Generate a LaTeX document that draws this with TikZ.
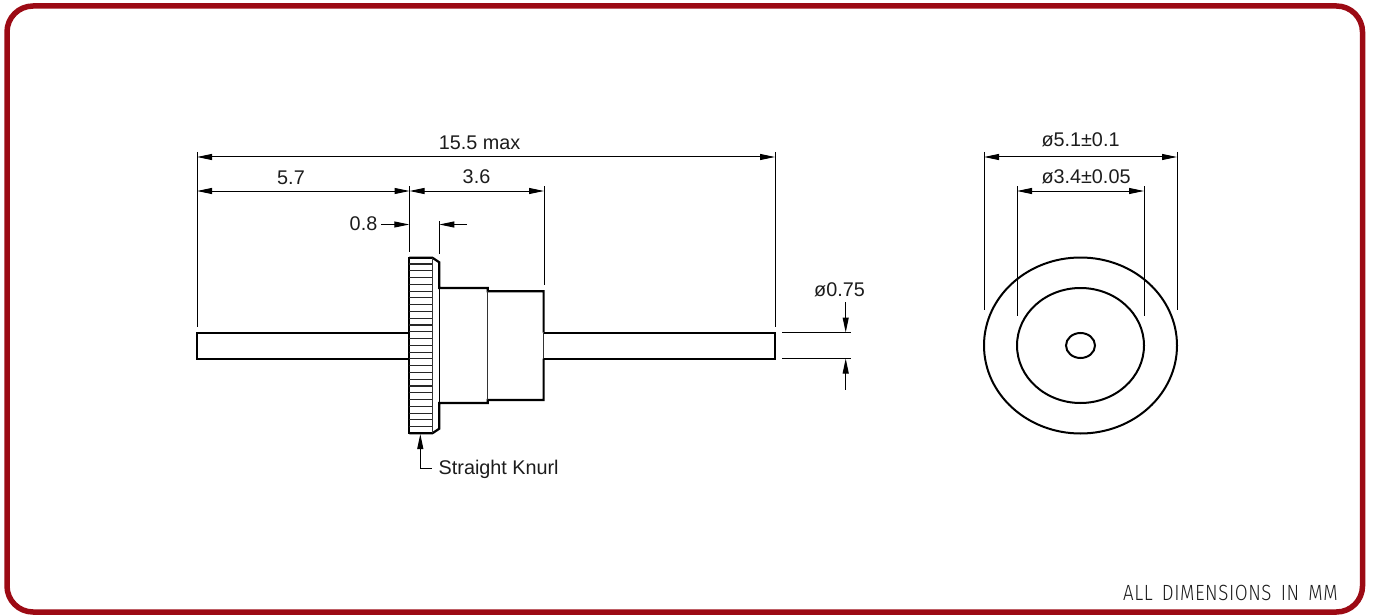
\documentclass[tikz,border=0pt]{standalone}
\usepackage{fontspec}
\setmainfont{Liberation Sans}
\newfontfamily\dinfont[LetterSpace=3,WordSpace=1.6]{Fira Sans Light}
\usetikzlibrary{arrows.meta}
\definecolor{framered}{HTML}{9C0A14}
\definecolor{inkgrey}{HTML}{1C1C1C}
\tikzset{
  x=1pt,y=-1pt,
  thickline/.style={draw=black,line width=2.2pt,line join=miter},
  midline/.style={draw=black,line width=1.6pt},
  thinline/.style={draw=black!80,line width=1pt},
  hatchline/.style={draw=black!85,line width=1.1pt},
  dimline/.style={draw=black,line width=1pt},
  dimarrows/.style={dimline,{Triangle[length=15pt,width=6pt]}-{Triangle[length=15pt,width=6pt]}},
  onearrow/.style={dimline,-{Triangle[length=15pt,width=6pt]}},
  dimtext/.style={inner sep=0pt,text=inkgrey,font=\fontsize{19.8}{19.8}\selectfont},
}
\begin{document}
\begin{tikzpicture}
\useasboundingbox (0,0) rectangle (1379,615);
\draw[draw=framered,line width=5.5pt,rounded corners=26pt] (7,6) rectangle (1362.5,612);

% Side view: shaft
\draw[thickline] (409.3,332.7) -- (197,332.7) -- (197,358.7) -- (409.3,358.7);
\draw[thickline] (543.6,332.7) -- (775,332.7) -- (775,358.7) -- (543.6,358.7);
\draw[thinline] (543.6,332.7) -- (543.6,358.7);
% Knurled head
\draw[thickline] (409.3,257.7) -- (432.3,257.7) -- (439.3,262.3) -- (439.3,288) -- (487.7,288) -- (487.7,291.3) -- (543.6,291.3) -- (543.6,332.7);
\draw[thickline] (543.6,358.7) -- (543.6,400) -- (487.7,400) -- (487.7,403) -- (439.3,403) -- (439.3,428.7) -- (432.3,433.3) -- (409.3,433.3);
\draw[thickline] (409.3,256.6) -- (409.3,434.4);
\draw[thinline] (432.3,257.7) -- (432.3,433.3);
\draw[midline] (439.3,288) -- (439.3,403);
\draw[thinline] (487.7,291.3) -- (487.7,400);
\foreach \k in {0,...,24}{
  \draw[hatchline] (409.3,{264+6.78*\k}) -- (432.3,{264+6.78*\k});
}

% End view
\coordinate (c) at (1080.5,345.5);
\draw[thickline,line width=2pt] (c) ellipse [x radius=96.5,y radius=88];
\draw[thickline,line width=2pt] (c) ellipse [x radius=63.5,y radius=57.5];
\draw[thickline,line width=2pt] (c) ellipse [x radius=14.5,y radius=12.5];

% Extension lines, side view
\draw[dimline] (197,152) -- (197,327);
\draw[dimline] (775,152) -- (775,327);
\draw[dimline] (409.5,186) -- (409.5,252);
\draw[dimline] (544,186) -- (544,285);
\draw[dimline] (439.3,221) -- (439.3,254);
\draw[dimline] (782,332.5) -- (850.5,332.5);
\draw[dimline] (782,358.5) -- (850.5,358.5);

% Dimension lines, side view
\coordinate (a1) at (197,157); \coordinate (a2) at (775,157);
\draw[dimarrows] (a1) -- (a2);
\coordinate (b1) at (197,191); \coordinate (b2) at (409.5,191); \coordinate (b3) at (544,191);
\draw[dimarrows] (b1) -- (b2);
\draw[dimarrows] (b2) -- (b3);
\node[dimtext] (t155) at (479.5,142.5) {15.5 max};
\node[dimtext] (t57) at (291,178) {5.7};
\node[dimtext] (t36) at (476.5,177) {3.6};
\node[dimtext] (t08) at (363.5,224) {0.8};
\coordinate (d1) at (381,224.5); \coordinate (d2) at (409.3,224.5);
\coordinate (d3) at (467,224.5); \coordinate (d4) at (439.3,224.5);
\draw[onearrow] (d1) -- (d2);
\draw[onearrow] (d3) -- (d4);
\node[dimtext] (t075) at (839.5,290) {ø0.75};
\coordinate (e1) at (845.7,302); \coordinate (e2) at (845.7,332.5);
\coordinate (e3) at (845.7,389.5); \coordinate (e4) at (845.7,358.5);
\draw[onearrow] (e1) -- (e2);
\draw[onearrow] (e3) -- (e4);

% Knurl leader
\node[dimtext,anchor=base west] (knurl) at (438.5,474.5) {Straight Knurl};
\coordinate (k0) at (431.5,468); \coordinate (k1) at (420.3,468); \coordinate (k2) at (420.3,434);
\draw[onearrow] (k0) -- (k1) -- (k2);

% Extension and dimension lines, end view
\draw[dimline] (984,152) -- (984,310);
\draw[dimline] (1177,152) -- (1177,310);
\draw[dimline] (1017,186) -- (1017,316);
\draw[dimline] (1144,186) -- (1144,316);
\coordinate (f1) at (984,157); \coordinate (f2) at (1177,157);
\coordinate (g1) at (1017,191); \coordinate (g2) at (1144,191);
\draw[dimarrows] (f1) -- (f2);
\draw[dimarrows] (g1) -- (g2);
\node[dimtext] (t51) at (1080.5,140) {ø5.1±0.1};
\node[dimtext] (t34) at (1086,177) {ø3.4±0.05};

\node[inner sep=0pt,anchor=base east,text=inkgrey,xscale=0.85,font=\dinfont\fontsize{22}{22}\selectfont] (note) at (1338,600.5) {ALL DIMENSIONS IN MM};
\end{tikzpicture}
\end{document}
